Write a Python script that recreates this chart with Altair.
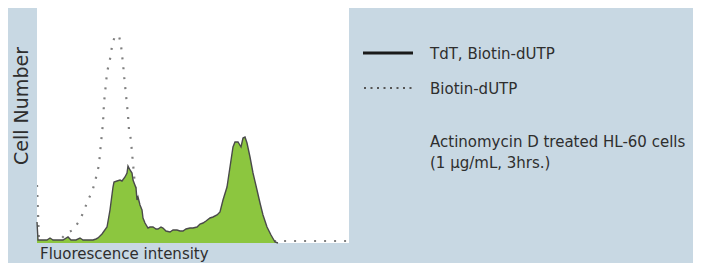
import altair as alt
import pandas as pd

# Green histogram (TdT, Biotin-dUTP): channel vs cell count
green_x = [0, 1, 5, 10, 13, 16, 21, 26, 31, 34, 39, 43, 46, 51, 56, 59, 61, 65, 70, 73, 76, 77, 80, 83, 85, 88,
           90, 91, 93, 95, 96, 99, 100, 101, 103, 105, 106, 108, 111, 113, 116, 119, 121, 124, 126, 129, 133,
           136, 140, 143, 146, 149, 153, 156, 160, 163, 166, 169, 173, 176, 180, 183, 186, 190, 193, 196, 198,
           201, 204, 206, 208, 210, 213, 216, 220, 223, 226, 230, 234, 238, 241]
green_y = [21, 3, 3, 3, 5, 3, 3, 3, 6, 3, 3, 5, 3, 3, 3, 4, 5, 9, 16, 33, 56, 61, 62, 63, 62, 66,
           70, 77, 73, 70, 63, 55, 43, 46, 38, 33, 25, 20, 15, 16, 16, 14, 14, 16, 15, 12, 11,
           13, 13, 12, 12, 14, 15, 15, 16, 19, 20, 22, 25, 26, 28, 31, 43, 56, 76, 96, 101,
           101, 96, 105, 106, 100, 86, 70, 53, 40, 28, 16, 8, 1, 0]

# Dotted histogram (Biotin-dUTP control)
dot_x = [0, 2, 8, 18, 25, 30, 36, 43, 48, 51, 55, 58, 60, 62, 63, 64, 65, 66, 66.5, 67, 68, 69, 70, 72, 74, 75,
         78, 82, 84, 85, 86, 87, 88, 89, 90, 91, 92, 94, 95, 96, 97, 98, 101, 105, 111, 118, 312]
dot_y = [58, 2, 2, 2, 5, 10, 13, 23, 35, 43, 51, 61, 70, 78, 90, 100, 110, 120, 130, 140, 150, 160, 170, 180, 188, 198,
         207, 207, 198, 188, 180, 168, 158, 148, 138, 128, 113, 103, 90, 80, 68, 58, 38, 18, 5, 2, 2]

legend_labels = ["TdT, Biotin-dUTP", "Biotin-dUTP"]
note_lines = ["Actinomycin D treated HL-60 cells", "(1 µg/mL, 3hrs.)"]
x_title = "Fluorescence intensity"
y_title = "Cell Number"

W, H = 312, 235
PL, PR, PT, PB = 29, 344, 0, 20
FONT = "DejaVu Sans"
TXT = "#2e2e2e"
BG = "#c8d8e3"

green = pd.DataFrame({"ch": green_x, "n": green_y})
dotted = pd.DataFrame({"ch": dot_x, "n": dot_y})

xs = alt.Scale(domain=[0, 312], nice=False, zero=False)
ys = alt.Scale(domain=[0, 235], nice=False)

X = alt.X("ch:Q", scale=xs, axis=None)
Y = alt.Y("n:Q", scale=ys, axis=None, stack=None)

one = pd.DataFrame({"k": [0]})

bg_rect = alt.Chart(one).mark_rect(fill=BG, strokeWidth=0).encode(
    x=alt.value(-PL), x2=alt.value(W + PR), y=alt.value(-PT), y2=alt.value(H + PB))
plot_rect = alt.Chart(one).mark_rect(fill="white", strokeWidth=0).encode(
    x=alt.value(0), x2=alt.value(W), y=alt.value(0), y2=alt.value(H))

dot_layer = alt.Chart(dotted).mark_line(
    color="#808080", strokeWidth=2.2, strokeDash=[2, 8], clip=True
).encode(x=X, y=Y)

green_fill = alt.Chart(green).mark_area(
    fill="#8cc63f", fillOpacity=1, strokeWidth=0
).encode(x=X, y=Y)

green_line = alt.Chart(green).mark_line(
    color="#4a4a4a", strokeWidth=1.4
).encode(x=X, y=Y)

ytitle = alt.Chart(one).mark_text(
    text=y_title, font=FONT, fontSize=19, color=TXT, angle=270, align="center", baseline="middle"
).encode(x=alt.value(-15), y=alt.value(98))

xtitle = alt.Chart(one).mark_text(
    text=x_title, font=FONT, fontSize=15, color=TXT, align="left", baseline="alphabetic"
).encode(x=alt.value(3), y=alt.value(251))

leg_solid = alt.Chart(one).mark_rule(color="#1a1a1a", strokeWidth=3).encode(
    x=alt.value(326), x2=alt.value(376), y=alt.value(45))
leg_dot = alt.Chart(one).mark_rule(color="#555555", strokeWidth=2, strokeDash=[2, 4.5]).encode(
    x=alt.value(327), x2=alt.value(376), y=alt.value(80))

def label(txt, yv):
    return alt.Chart(one).mark_text(
        text=txt, font=FONT, fontSize=15, color=TXT, align="left", baseline="alphabetic"
    ).encode(x=alt.value(393), y=alt.value(yv))

chart = alt.layer(
    bg_rect, plot_rect, dot_layer, green_fill, green_line, ytitle, xtitle, leg_solid, leg_dot,
    label(legend_labels[0], 50.5), label(legend_labels[1], 85.5),
    label(note_lines[0], 139), label(note_lines[1], 160),
).properties(
    width=W, height=H,
    autosize=alt.AutoSizeParams(type="none"),
    padding={"left": PL, "top": PT, "right": PR, "bottom": PB},
    background=BG,
).configure_view(stroke=None)

chart.save("out.html", embed_options={"renderer": "svg", "actions": False})
